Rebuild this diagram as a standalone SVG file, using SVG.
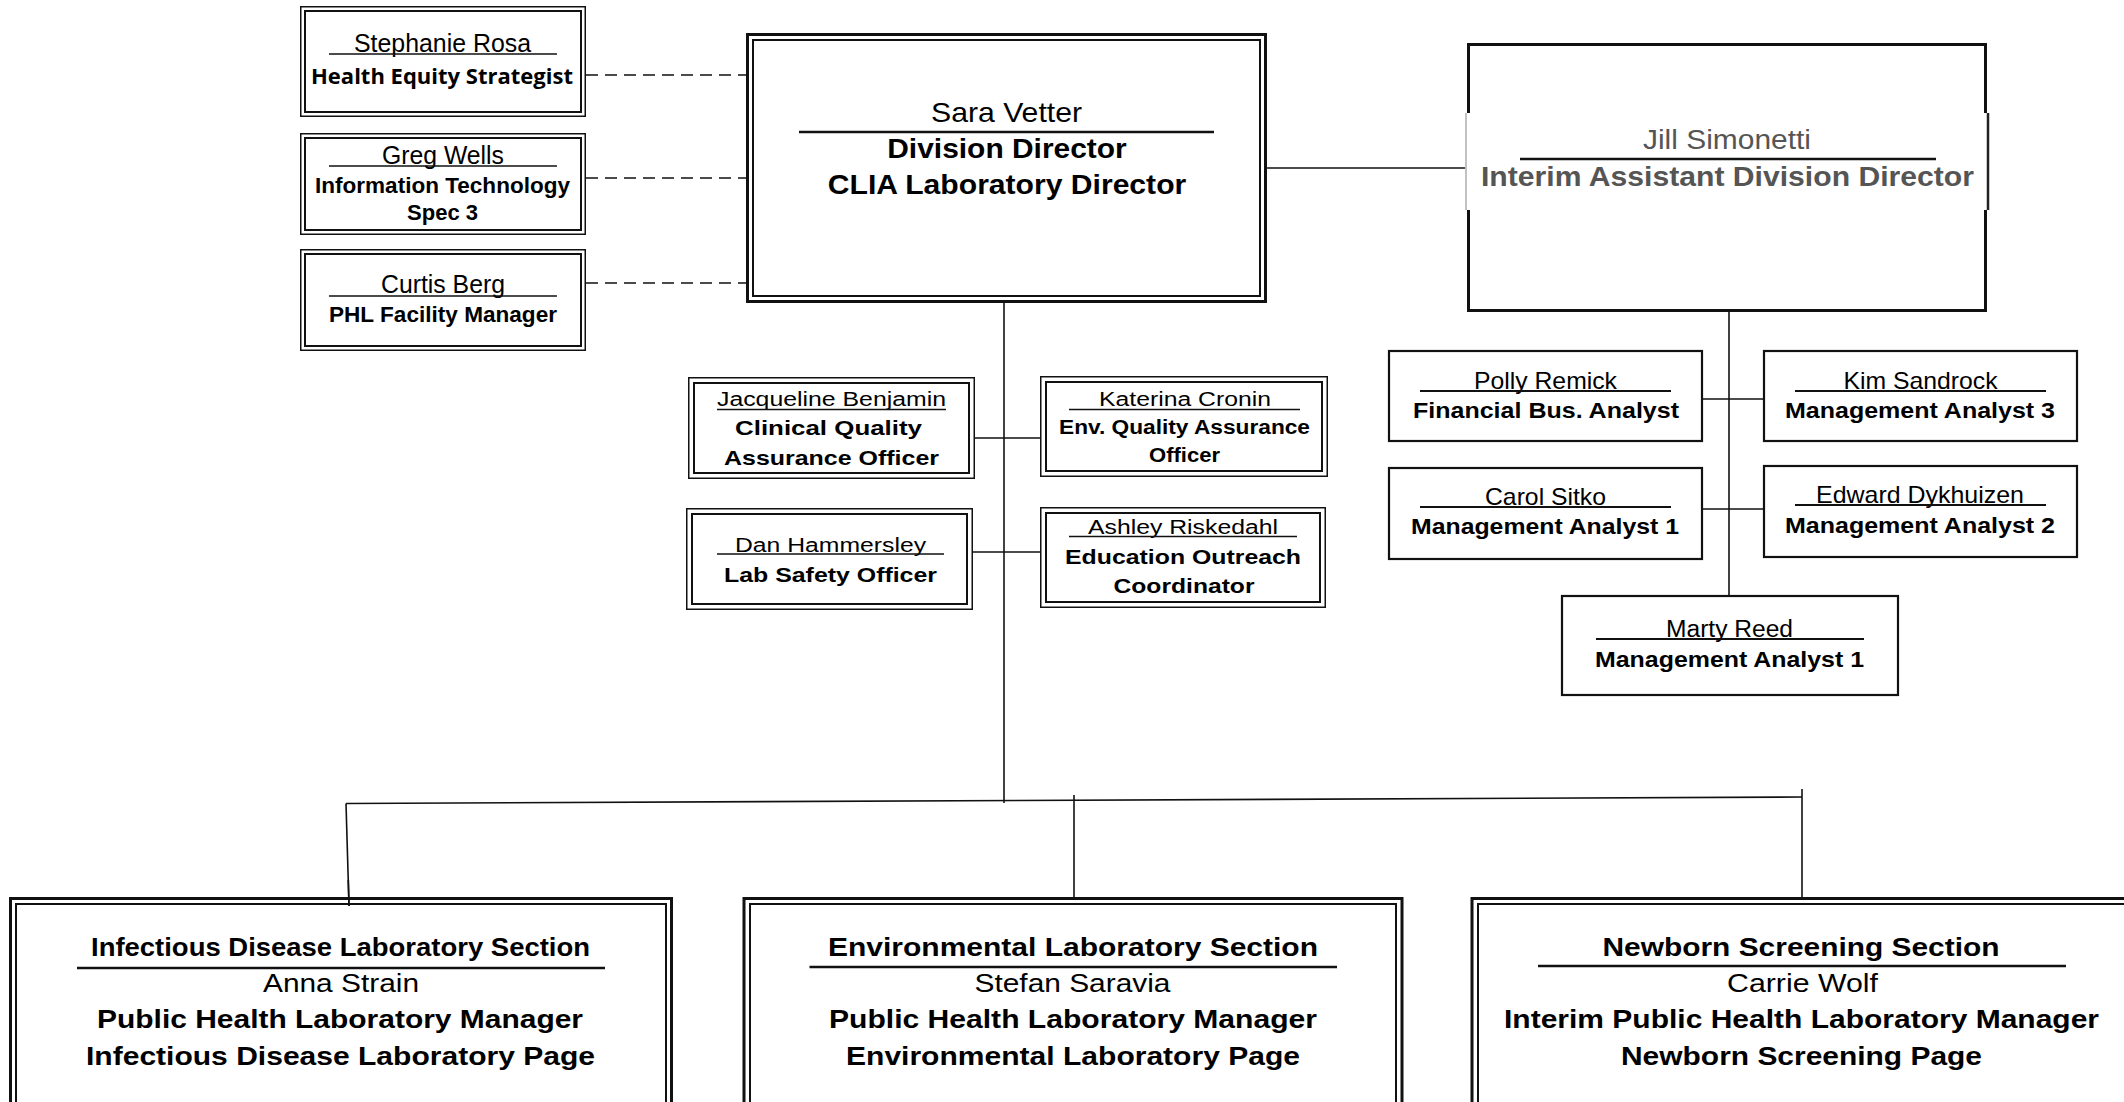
<svg xmlns="http://www.w3.org/2000/svg" width="2124" height="1102" viewBox="0 0 2124 1102">
<style>
text{font-family:"Liberation Sans",Arial,sans-serif;text-anchor:middle;fill:#000}
.b{font-weight:bold}
.cal{font-family:"Open Sans","Liberation Sans",sans-serif;font-weight:bold}
.gray{fill:#555}
.o{fill:none;stroke:#111;stroke-width:1.5}
.i{fill:none;stroke:#111;stroke-width:2}
.O{fill:none;stroke:#111;stroke-width:3}
.s{fill:#fff;stroke:#111;stroke-width:2.2}
.ul{stroke:#111;stroke-width:1.5}
.ul2{stroke:#111;stroke-width:2}
.ul3{stroke:#111;stroke-width:2.7}
.c{stroke:#111;stroke-width:1.6;fill:none}
.d{stroke:#111;stroke-width:1.5;stroke-dasharray:12 7;fill:none}
</style>
<rect width="2124" height="1102" fill="#fff"/>
<g id="connectors">
<line class="d" x1="586" y1="75" x2="747" y2="75"/>
<line class="d" x1="586" y1="178" x2="747" y2="178"/>
<line class="d" x1="586" y1="283" x2="747" y2="283"/>
<line class="c" x1="1267" y1="168" x2="1467" y2="168"/>
<line class="c" x1="1004" y1="303" x2="1004" y2="803"/>
<line class="c" x1="975" y1="438" x2="1040" y2="438"/>
<line class="c" x1="973" y1="552" x2="1040" y2="552"/>
<line class="c" x1="1729" y1="312" x2="1729" y2="595"/>
<line class="c" x1="1703" y1="399" x2="1767" y2="399"/>
<line class="c" x1="1703" y1="509" x2="1763" y2="509"/>
<line class="c" x1="346" y1="803.5" x2="1802" y2="797"/>
<line class="c" x1="346" y1="803.5" x2="349" y2="906"/>
<line class="c" x1="1074" y1="795" x2="1074" y2="897"/>
<line class="c" x1="1802" y1="789" x2="1802" y2="897"/>
</g>
<g id="stephanie">
<rect class="o" x="300.75" y="6.75" width="284.5" height="109.5" fill="#fff"/>
<rect class="i" x="305" y="11" width="276" height="101"/>
<text x="442.5" y="52" font-size="25" textLength="177" lengthAdjust="spacingAndGlyphs">Stephanie Rosa</text>
<line class="ul" x1="329" y1="54" x2="557" y2="54"/>
<text class="cal" x="442" y="84" font-size="21" textLength="262" lengthAdjust="spacingAndGlyphs">Health Equity Strategist</text>
</g>
<g id="greg">
<rect class="o" x="300.75" y="133.75" width="284.5" height="100.5"/>
<rect class="i" x="305" y="138" width="276" height="92"/>
<text x="443" y="164" font-size="25" textLength="122" lengthAdjust="spacingAndGlyphs">Greg Wells</text>
<line class="ul" x1="329" y1="166" x2="557" y2="166"/>
<text class="b" x="442.5" y="193" font-size="22" textLength="255" lengthAdjust="spacingAndGlyphs">Information Technology</text>
<text class="b" x="442.5" y="220" font-size="22" textLength="71" lengthAdjust="spacingAndGlyphs">Spec 3</text>
</g>
<g id="curtis">
<rect class="o" x="300.75" y="249.75" width="284.5" height="100.5"/>
<rect class="i" x="305" y="254" width="276" height="92"/>
<text x="443" y="293" font-size="25" textLength="124" lengthAdjust="spacingAndGlyphs">Curtis Berg</text>
<line class="ul" x1="329" y1="296" x2="557" y2="296"/>
<text class="b" x="443" y="322" font-size="22" textLength="228" lengthAdjust="spacingAndGlyphs">PHL Facility Manager</text>
</g>
<g id="sara">
<rect class="O" x="747.5" y="34.5" width="518" height="267"/>
<rect class="i" x="753" y="40" width="507" height="256"/>
<text x="1006.5" y="122" font-size="28" textLength="151" lengthAdjust="spacingAndGlyphs">Sara Vetter</text>
<line class="ul3" x1="799" y1="132" x2="1214" y2="132"/>
<text class="b" x="1007" y="158" font-size="27" textLength="239.5" lengthAdjust="spacingAndGlyphs">Division Director</text>
<text class="b" x="1007" y="194" font-size="27" textLength="358.5" lengthAdjust="spacingAndGlyphs">CLIA Laboratory Director</text>
</g>
<g id="jill">
<rect class="O" x="1468.5" y="44.5" width="517" height="266"/>
<rect x="1465" y="113" width="8" height="97" fill="#fff"/>
<rect x="1982" y="113" width="9" height="97" fill="#fff"/>
<line x1="1466" y1="113" x2="1466" y2="210" stroke="#999" stroke-width="1.2"/>
<line x1="1988" y1="113" x2="1988" y2="210" stroke="#222" stroke-width="2.5"/>
<text class="gray" x="1727" y="149" font-size="27" textLength="168" lengthAdjust="spacingAndGlyphs">Jill Simonetti</text>
<line class="ul3" x1="1520" y1="159" x2="1936" y2="159"/>
<text class="b gray" x="1727.5" y="186" font-size="28" textLength="493" lengthAdjust="spacingAndGlyphs">Interim Assistant Division Director</text>
</g>
<g id="jacqueline">
<rect class="o" x="688.75" y="377.75" width="285.5" height="100.5" fill="#fff"/>
<rect class="i" x="694" y="383" width="275" height="90"/>
<text x="831.5" y="406" font-size="20" textLength="229" lengthAdjust="spacingAndGlyphs">Jacqueline Benjamin</text>
<line class="ul" x1="717" y1="409.5" x2="946" y2="409.5"/>
<text class="b" x="828.5" y="435" font-size="21" textLength="187" lengthAdjust="spacingAndGlyphs">Clinical Quality</text>
<text class="b" x="831.5" y="465" font-size="21" textLength="215" lengthAdjust="spacingAndGlyphs">Assurance Officer</text>
</g>
<g id="katerina">
<rect class="o" x="1040.75" y="376.75" width="286.5" height="99.5" fill="#fff"/>
<rect class="i" x="1046" y="382" width="276" height="89"/>
<text x="1185" y="406" font-size="20" textLength="172" lengthAdjust="spacingAndGlyphs">Katerina Cronin</text>
<line class="ul" x1="1069" y1="409.5" x2="1300" y2="409.5"/>
<text class="b" x="1184.5" y="434" font-size="19.5" textLength="251" lengthAdjust="spacingAndGlyphs">Env. Quality Assurance</text>
<text class="b" x="1184.5" y="462" font-size="19.5" textLength="71" lengthAdjust="spacingAndGlyphs">Officer</text>
</g>
<g id="dan">
<rect class="o" x="686.75" y="508.75" width="285.5" height="100.5" fill="#fff"/>
<rect class="i" x="692" y="514" width="275" height="90"/>
<text x="830.5" y="552" font-size="20" textLength="191" lengthAdjust="spacingAndGlyphs">Dan Hammersley</text>
<line class="ul" x1="717" y1="554" x2="944" y2="554"/>
<text class="b" x="830.5" y="582" font-size="21" textLength="213" lengthAdjust="spacingAndGlyphs">Lab Safety Officer</text>
</g>
<g id="ashley">
<rect class="o" x="1040.75" y="507.75" width="284.5" height="99.5" fill="#fff"/>
<rect class="i" x="1046" y="513" width="274" height="89"/>
<text x="1183" y="534" font-size="20" textLength="190" lengthAdjust="spacingAndGlyphs">Ashley Riskedahl</text>
<line class="ul" x1="1069" y1="536.5" x2="1297" y2="536.5"/>
<text class="b" x="1183" y="564" font-size="21" textLength="236" lengthAdjust="spacingAndGlyphs">Education Outreach</text>
<text class="b" x="1184" y="593" font-size="21" textLength="141" lengthAdjust="spacingAndGlyphs">Coordinator</text>
</g>
<g id="polly">
<rect class="s" x="1389" y="351" width="313" height="90"/>
<text x="1545.5" y="389" font-size="24" textLength="143" lengthAdjust="spacingAndGlyphs">Polly Remick</text>
<line class="ul2" x1="1420" y1="391" x2="1671" y2="391"/>
<text class="b" x="1546" y="418" font-size="22" textLength="266" lengthAdjust="spacingAndGlyphs">Financial Bus. Analyst</text>
</g>
<g id="kim">
<rect class="s" x="1764" y="351" width="313" height="90"/>
<text x="1920.5" y="389" font-size="24" textLength="154" lengthAdjust="spacingAndGlyphs">Kim Sandrock</text>
<line class="ul2" x1="1795" y1="391" x2="2046" y2="391"/>
<text class="b" x="1920" y="418" font-size="22" textLength="270" lengthAdjust="spacingAndGlyphs">Management Analyst 3</text>
</g>
<g id="carol">
<rect class="s" x="1389" y="468" width="313" height="91"/>
<text x="1545.5" y="505" font-size="24" textLength="121" lengthAdjust="spacingAndGlyphs">Carol Sitko</text>
<line class="ul2" x1="1420" y1="507" x2="1671" y2="507"/>
<text class="b" x="1545" y="534" font-size="22" textLength="268" lengthAdjust="spacingAndGlyphs">Management Analyst 1</text>
</g>
<g id="edward">
<rect class="s" x="1764" y="466" width="313" height="91"/>
<text x="1920" y="503" font-size="24" textLength="208" lengthAdjust="spacingAndGlyphs">Edward Dykhuizen</text>
<line class="ul2" x1="1795" y1="505" x2="2046" y2="505"/>
<text class="b" x="1920" y="533" font-size="22" textLength="270" lengthAdjust="spacingAndGlyphs">Management Analyst 2</text>
</g>
<g id="marty">
<rect class="s" x="1562" y="596" width="336" height="99"/>
<text x="1729.5" y="637" font-size="23" textLength="127" lengthAdjust="spacingAndGlyphs">Marty Reed</text>
<line class="ul2" x1="1596" y1="639" x2="1864" y2="639"/>
<text class="b" x="1729.5" y="667" font-size="22" textLength="269" lengthAdjust="spacingAndGlyphs">Management Analyst 1</text>
</g>
<g id="infectious">
<rect class="O" x="10.5" y="898.5" width="661" height="230" fill="#fff"/>
<rect class="i" x="16" y="904" width="650" height="220"/>
<line class="c" x1="348.3" y1="880" x2="349" y2="906"/>
<text class="b" x="340.5" y="956" font-size="25" textLength="499" lengthAdjust="spacingAndGlyphs">Infectious Disease Laboratory Section</text>
<line class="ul3" x1="77" y1="968" x2="605" y2="968"/>
<text x="341" y="992" font-size="25" textLength="156" lengthAdjust="spacingAndGlyphs">Anna Strain</text>
<text class="b" x="340" y="1028" font-size="26" textLength="486" lengthAdjust="spacingAndGlyphs">Public Health Laboratory Manager</text>
<text class="b" x="340.5" y="1065" font-size="26" textLength="509" lengthAdjust="spacingAndGlyphs">Infectious Disease Laboratory Page</text>
</g>
<g id="environmental">
<rect class="O" x="744" y="898.5" width="658" height="230" fill="#fff"/>
<rect class="i" x="750" y="904" width="646" height="220"/>
<text class="b" x="1073" y="956" font-size="25" textLength="490" lengthAdjust="spacingAndGlyphs">Environmental Laboratory Section</text>
<line class="ul3" x1="809.5" y1="967" x2="1337" y2="967"/>
<text x="1072.5" y="992" font-size="25" textLength="196" lengthAdjust="spacingAndGlyphs">Stefan Saravia</text>
<text class="b" x="1073" y="1028" font-size="26" textLength="488" lengthAdjust="spacingAndGlyphs">Public Health Laboratory Manager</text>
<text class="b" x="1073" y="1065" font-size="26" textLength="454" lengthAdjust="spacingAndGlyphs">Environmental Laboratory Page</text>
</g>
<g id="newborn">
<rect class="O" x="1472" y="898.5" width="700" height="230" fill="#fff"/>
<rect class="i" x="1478" y="904" width="690" height="220"/>
<text class="b" x="1801" y="956" font-size="25" textLength="397" lengthAdjust="spacingAndGlyphs">Newborn Screening Section</text>
<line class="ul3" x1="1538" y1="966" x2="2066" y2="966"/>
<text x="1802.5" y="992" font-size="25" textLength="151" lengthAdjust="spacingAndGlyphs">Carrie Wolf</text>
<text class="b" x="1801.5" y="1028" font-size="26" textLength="595" lengthAdjust="spacingAndGlyphs">Interim Public Health Laboratory Manager</text>
<text class="b" x="1801.5" y="1065" font-size="26" textLength="361" lengthAdjust="spacingAndGlyphs">Newborn Screening Page</text>
</g>
</svg>
